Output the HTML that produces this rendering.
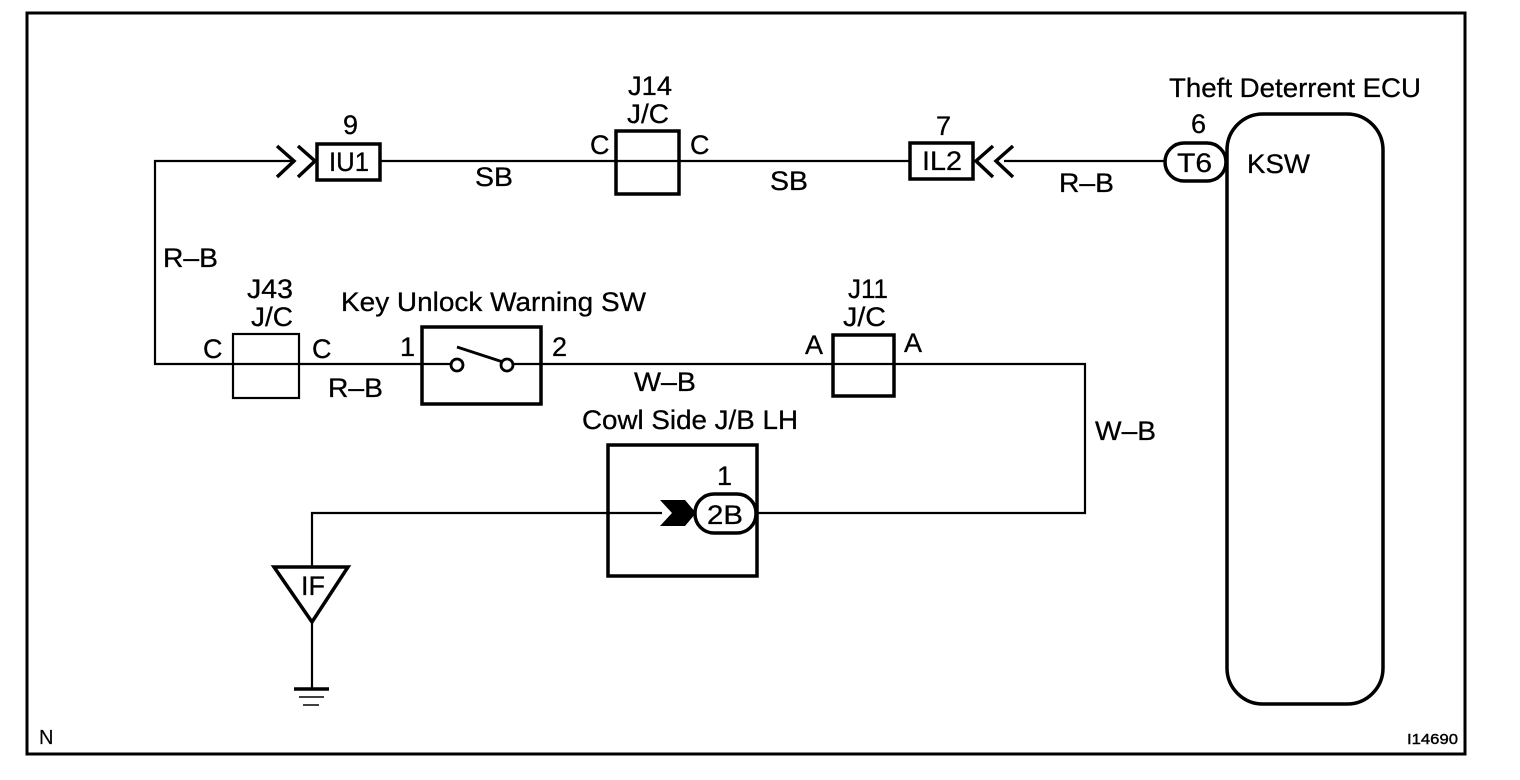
<!DOCTYPE html>
<html><head><meta charset="utf-8"><style>
html,body{margin:0;padding:0;background:#fff;width:1520px;height:780px;overflow:hidden}
svg{display:block}
text{font-family:"Liberation Sans",sans-serif;font-size:27px;fill:#000;stroke:#000;stroke-width:.3}
</style></head><body>
<svg width="1520" height="780" viewBox="0 0 1520 780" xmlns="http://www.w3.org/2000/svg">
<g fill="none" stroke="#000">
<rect x="27" y="13" width="1438" height="741" stroke-width="3"/>
<!-- wires -->
<g stroke-width="2.2">
<path d="M292 161H155V364H451"/>
<path d="M380 161H910"/>
<path d="M1004 161H1165"/>
<path d="M513 364H1085V513H756"/>
<path d="M662 513H312V566"/>
<path d="M312 622V688"/>
<path d="M299 697H324M303 705H319" stroke-width="1.6"/>
</g>
<path d="M294 689H329" stroke-width="3.5"/>
<!-- boxes -->
<g stroke-width="3.5">
<rect x="317" y="144" width="63" height="36"/>
<rect x="616" y="131" width="63" height="63"/>
<rect x="910" y="143" width="63" height="36"/>
<rect x="833" y="335" width="61" height="61"/>
<rect x="422" y="327" width="119" height="77"/>
<rect x="608" y="445" width="149" height="131"/>
<rect x="1227" y="114" width="156" height="590" rx="36" ry="36" fill="#fff"/>
<rect x="1165" y="143" width="61" height="38" rx="19" ry="19" fill="#fff"/>
<rect x="695" y="494" width="61" height="39" rx="19" ry="19" fill="#fff"/>
<path d="M274 567H348L312 622Z"/>
<path d="M277 146L294 161L277 177M298 146L315 161L298 177"/>
<path d="M993 146L976 161L993 177M1013 146L996 161L1013 177"/>
</g>
<rect x="233" y="334" width="66" height="64" stroke-width="2.2"/>
<!-- switch -->
<g stroke-width="2.8">
<circle cx="457" cy="365" r="6" fill="#fff"/>
<circle cx="507" cy="365" r="6" fill="#fff"/>
<path d="M457 347L503 362"/>
</g>
</g>
<path d="M660 500H685L696 513L685 526H660L672 513Z" fill="#000"/>
<!-- labels -->
<text x="628" y="95" textLength="44" lengthAdjust="spacingAndGlyphs">J14</text>
<text x="627" y="123" textLength="42" lengthAdjust="spacingAndGlyphs">J/C</text>
<text x="343" y="134">9</text>
<text x="936" y="135">7</text>
<text x="1191" y="133">6</text>
<text x="1169" y="97" textLength="252" lengthAdjust="spacingAndGlyphs">Theft Deterrent ECU</text>
<text x="329" y="171" textLength="40" lengthAdjust="spacingAndGlyphs">IU1</text>
<text x="922" y="170" textLength="40" lengthAdjust="spacingAndGlyphs">IL2</text>
<text x="1177" y="172" textLength="35" lengthAdjust="spacingAndGlyphs">T6</text>
<text x="1247" y="173" textLength="63" lengthAdjust="spacingAndGlyphs">KSW</text>
<text x="590" y="154">C</text>
<text x="690" y="154">C</text>
<text x="475" y="186" textLength="38" lengthAdjust="spacingAndGlyphs">SB</text>
<text x="770" y="190" textLength="38" lengthAdjust="spacingAndGlyphs">SB</text>
<text x="1059" y="192" textLength="55" lengthAdjust="spacingAndGlyphs">R–B</text>
<text x="163" y="267" textLength="55" lengthAdjust="spacingAndGlyphs">R–B</text>
<text x="247" y="298" textLength="46" lengthAdjust="spacingAndGlyphs">J43</text>
<text x="251" y="326" textLength="42" lengthAdjust="spacingAndGlyphs">J/C</text>
<text x="341" y="311" textLength="305" lengthAdjust="spacingAndGlyphs">Key Unlock Warning SW</text>
<text x="848" y="298" textLength="40" lengthAdjust="spacingAndGlyphs">J11</text>
<text x="843" y="326" textLength="43" lengthAdjust="spacingAndGlyphs">J/C</text>
<text x="203" y="358">C</text>
<text x="312" y="358">C</text>
<text x="400" y="356">1</text>
<text x="552" y="356">2</text>
<text x="805" y="354">A</text>
<text x="904" y="352">A</text>
<text x="328" y="397" textLength="55" lengthAdjust="spacingAndGlyphs">R–B</text>
<text x="634" y="391" textLength="62" lengthAdjust="spacingAndGlyphs">W–B</text>
<text x="1095" y="440" textLength="61" lengthAdjust="spacingAndGlyphs">W–B</text>
<text x="582" y="429" textLength="216" lengthAdjust="spacingAndGlyphs">Cowl Side J/B LH</text>
<text x="717" y="485">1</text>
<text x="707" y="524" textLength="36" lengthAdjust="spacingAndGlyphs">2B</text>
<text x="301" y="595" textLength="24" lengthAdjust="spacingAndGlyphs">IF</text>
<text x="39" y="744" style="font-size:20px;stroke-width:.2">N</text>
<text x="1407" y="744" textLength="51" lengthAdjust="spacingAndGlyphs" style="font-size:15px;stroke-width:.4">I14690</text>
</svg>
</body></html>
